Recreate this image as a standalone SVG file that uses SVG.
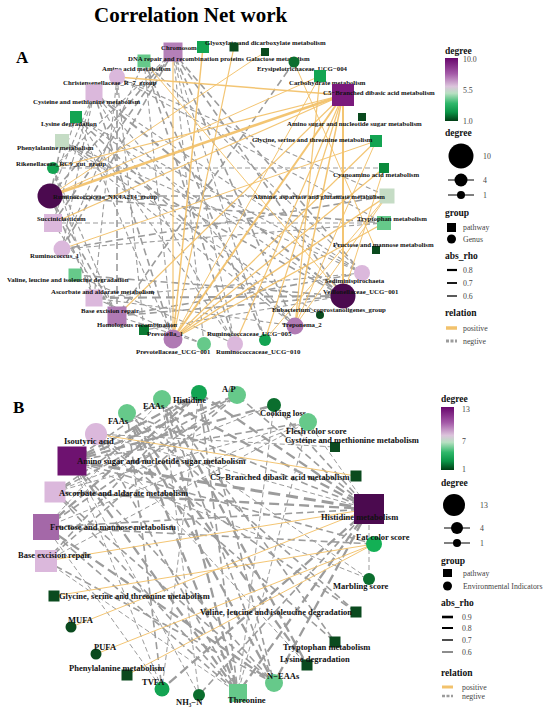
<svg xmlns="http://www.w3.org/2000/svg" width="550" height="712" viewBox="0 0 550 712">
<style>
text{font-family:"Liberation Serif","Times New Roman",serif}
.t{font-weight:bold;font-size:21px;fill:#000}
.pl{font-weight:bold;font-size:17px;fill:#000}
.la{font-weight:bold;font-size:6.8px;fill:#111}
.lb{font-weight:bold;font-size:8.5px;fill:#111}
.lt{font-weight:bold;font-size:9.5px;fill:#111}
.lv{font-size:7.8px;fill:#444}
.pos{stroke:#f2c26c;fill:none;stroke-opacity:.95}
.a1,.a2,.a3,.b1,.b2,.b3,.b4{stroke:#9c9c9c;fill:none}
.a1{stroke-width:1.1;stroke-dasharray:5 3}
.a2{stroke-width:1.6;stroke-dasharray:7 4}
.a3{stroke-width:2.1;stroke-dasharray:9 5}
.b1{stroke-width:1;stroke-dasharray:5 3}
.b2{stroke-width:1.6;stroke-dasharray:7 4}
.b3{stroke-width:2.3;stroke-dasharray:10 5}
.b4{stroke-width:3;stroke-dasharray:12 6}
.k{fill:#000}
</style>
<defs>
<linearGradient id="grad" x1="0" y1="0" x2="0" y2="1">
<stop offset="0" stop-color="#68066c"/>
<stop offset="0.25" stop-color="#a45aa8"/>
<stop offset="0.45" stop-color="#dcc4dc"/>
<stop offset="0.56" stop-color="#b8e0c2"/>
<stop offset="0.72" stop-color="#2fb86a"/>
<stop offset="0.86" stop-color="#0a9446"/>
<stop offset="1" stop-color="#003d14"/>
</linearGradient>
</defs>
<rect width="550" height="712" fill="#fff"/>
<text class="t" x="94" y="22">Correlation Net work</text>
<text class="pl" x="16" y="63">A</text>
<text class="pl" x="13" y="413">B</text>

<g id="edges-A">
<g class="gray">
<line x1="50" y1="196" x2="387" y2="196" class="a2"/>
<line x1="53" y1="223" x2="384" y2="223" class="a1"/>
<line x1="50" y1="196" x2="384" y2="223" class="a2"/>
<line x1="50" y1="196" x2="173" y2="52" class="a2"/>
<line x1="50" y1="196" x2="94" y2="93" class="a1"/>
<line x1="50" y1="196" x2="76" y2="117" class="a1"/>
<line x1="50" y1="196" x2="62" y2="141" class="a2"/>
<line x1="50" y1="196" x2="94" y2="298" class="a2"/>
<line x1="50" y1="196" x2="117" y2="316" class="a2"/>
<line x1="343" y1="296" x2="173" y2="52" class="a2"/>
<line x1="343" y1="296" x2="94" y2="93" class="a3"/>
<line x1="343" y1="296" x2="76" y2="117" class="a1"/>
<line x1="343" y1="296" x2="62" y2="141" class="a2"/>
<line x1="343" y1="296" x2="94" y2="298" class="a3"/>
<line x1="343" y1="296" x2="117" y2="316" class="a2"/>
<line x1="343" y1="296" x2="75" y2="275" class="a2"/>
<line x1="343" y1="296" x2="144" y2="330" class="a1"/>
<line x1="362" y1="273" x2="94" y2="93" class="a1"/>
<line x1="362" y1="273" x2="173" y2="52" class="a2"/>
<line x1="362" y1="273" x2="94" y2="298" class="a1"/>
<line x1="362" y1="273" x2="117" y2="316" class="a2"/>
<line x1="362" y1="273" x2="62" y2="141" class="a1"/>
<line x1="362" y1="273" x2="76" y2="117" class="a1"/>
<line x1="173" y1="339" x2="76" y2="117" class="a1"/>
<line x1="173" y1="339" x2="94" y2="93" class="a2"/>
<line x1="117" y1="77" x2="117" y2="316" class="a2"/>
<line x1="117" y1="77" x2="94" y2="298" class="a1"/>
<line x1="117" y1="77" x2="144" y2="330" class="a1"/>
<line x1="117" y1="77" x2="387" y2="196" class="a1"/>
<line x1="117" y1="77" x2="384" y2="223" class="a1"/>
<line x1="62" y1="249" x2="173" y2="52" class="a2"/>
<line x1="62" y1="249" x2="144" y2="61" class="a1"/>
<line x1="62" y1="249" x2="94" y2="93" class="a1"/>
<line x1="62" y1="249" x2="387" y2="196" class="a2"/>
<line x1="62" y1="249" x2="384" y2="223" class="a1"/>
<line x1="295" y1="326" x2="173" y2="52" class="a2"/>
<line x1="295" y1="326" x2="94" y2="93" class="a1"/>
<line x1="295" y1="326" x2="94" y2="298" class="a1"/>
<line x1="295" y1="326" x2="62" y2="141" class="a1"/>
<line x1="295" y1="326" x2="76" y2="117" class="a2"/>
<line x1="235" y1="344" x2="173" y2="52" class="a1"/>
<line x1="235" y1="344" x2="144" y2="61" class="a2"/>
<line x1="235" y1="344" x2="76" y2="117" class="a1"/>
<line x1="235" y1="344" x2="94" y2="93" class="a1"/>
<line x1="235" y1="344" x2="75" y2="275" class="a1"/>
<line x1="204" y1="344" x2="173" y2="52" class="a1"/>
<line x1="204" y1="344" x2="117" y2="316" class="a1"/>
<line x1="204" y1="344" x2="94" y2="298" class="a1"/>
<line x1="53" y1="168" x2="94" y2="298" class="a1"/>
<line x1="53" y1="168" x2="117" y2="316" class="a1"/>
<line x1="53" y1="168" x2="173" y2="52" class="a1"/>
<line x1="53" y1="168" x2="384" y2="168" class="a1"/>
<line x1="53" y1="223" x2="173" y2="52" class="a2"/>
<line x1="53" y1="223" x2="94" y2="93" class="a1"/>
<line x1="53" y1="223" x2="117" y2="316" class="a1"/>
<line x1="320" y1="315" x2="62" y2="141" class="a1"/>
<line x1="294" y1="62" x2="117" y2="316" class="a2"/>
<line x1="265" y1="340" x2="144" y2="61" class="a2"/>
<line x1="144" y1="61" x2="362" y2="273" class="a1"/>
<line x1="144" y1="61" x2="173" y2="339" class="a1"/>
<line x1="173" y1="52" x2="265" y2="340" class="a1"/>
</g>
<g class="orange">
<line x1="343" y1="95" x2="50" y2="196" class="pos" stroke-width="2.6"/>
<line x1="343" y1="95" x2="117" y2="77" class="pos" stroke-width="1.5"/>
<line x1="343" y1="95" x2="173" y2="339" class="pos" stroke-width="2"/>
<line x1="343" y1="95" x2="343" y2="296" class="pos" stroke-width="2"/>
<line x1="343" y1="95" x2="295" y2="326" class="pos" stroke-width="1.5"/>
<line x1="343" y1="95" x2="265" y2="340" class="pos" stroke-width="1.2"/>
<line x1="343" y1="95" x2="117" y2="316" class="pos" stroke-width="1.2"/>
<line x1="343" y1="95" x2="235" y2="344" class="pos" stroke-width="1.2"/>
<line x1="343" y1="95" x2="53" y2="168" class="pos" stroke-width="1.2"/>
<line x1="343" y1="95" x2="53" y2="223" class="pos" stroke-width="1.2"/>
<line x1="265" y1="52" x2="50" y2="196" class="pos" stroke-width="1"/>
<line x1="203" y1="47" x2="173" y2="339" class="pos" stroke-width="1.5"/>
<line x1="234" y1="47" x2="173" y2="339" class="pos" stroke-width="1.2"/>
<line x1="173" y1="52" x2="173" y2="339" class="pos" stroke-width="1.2"/>
<line x1="320" y1="76" x2="50" y2="196" class="pos" stroke-width="1"/>
<line x1="320" y1="76" x2="173" y2="339" class="pos" stroke-width="1"/>
<line x1="376" y1="141" x2="173" y2="339" class="pos" stroke-width="1.2"/>
<line x1="376" y1="141" x2="295" y2="326" class="pos" stroke-width="1"/>
<line x1="384" y1="168" x2="173" y2="339" class="pos" stroke-width="1.2"/>
<line x1="387" y1="196" x2="173" y2="339" class="pos" stroke-width="1.5"/>
<line x1="384" y1="223" x2="173" y2="339" class="pos" stroke-width="1.2"/>
<line x1="387" y1="196" x2="265" y2="340" class="pos" stroke-width="1"/>
<line x1="376" y1="250" x2="294" y2="62" class="pos" stroke-width="1"/>
<line x1="343" y1="296" x2="144" y2="61" class="pos" stroke-width="1"/>
<line x1="295" y1="326" x2="320" y2="76" class="pos" stroke-width="1.2"/>
<line x1="376" y1="141" x2="62" y2="249" class="pos" stroke-width="1"/>
<line x1="384" y1="168" x2="343" y2="296" class="pos" stroke-width="1"/>
<line x1="387" y1="196" x2="295" y2="326" class="pos" stroke-width="1"/>
</g>
</g>

<g id="nodes-A">
<g id="a-chromosome"><rect x="163.5" y="42.5" width="19" height="19" fill="#b480b8"/><text class="la" x="161" y="49.5">Chromosome</text></g>
<g id="a-glyoxylate"><rect x="197" y="41" width="12" height="12" fill="#13a452"/><text class="la" x="205" y="44.5">Glyoxylate and dicarboxylate metabolism</text></g>
<g id="a-dna-repair"><rect x="137.5" y="54.5" width="13" height="13" fill="#66c98a"/><text class="la" x="128" y="60.5">DNA repair and recombination proteins</text></g>
<g id="a-p3"><rect x="229.5" y="42.5" width="9" height="9" fill="#0a4a1e"/></g>
<g id="a-galactose"><rect x="261" y="48" width="8" height="8" fill="#0a4a1e"/><text class="la" x="246" y="60.5">Galactose metabolism</text></g>
<g id="a-amino-acid"><text class="la" x="102" y="70.5">Amino acid metabolism</text></g>
<g id="a-erysipelotrichaceae"><circle cx="294" cy="62" r="5.5" fill="#0b6e2e"/><text class="la" x="257" y="70.5">Erysipelotrichaceae_UCG−004</text></g>
<g id="a-christensenellaceae"><circle cx="117" cy="77" r="8" fill="#dbb8dc"/><text class="la" x="63" y="84.5">Christensenellaceae_R−7_group</text></g>
<g id="a-carbohydrate"><rect x="314" y="70" width="12" height="12" fill="#13a452"/><text class="la" x="289" y="84.5">Carbohydrate metabolism</text></g>
<g id="a-c5"><rect x="332" y="84" width="22" height="22" fill="#7a1a7c"/><text class="la" x="323" y="94.5">C5−Branched dibasic acid metabolism</text></g>
<g id="a-cysteine"><rect x="85.5" y="84.5" width="17" height="17" fill="#dbb8dc"/><text class="la" x="33" y="103.5">Cysteine and methionine metabolism</text></g>
<g id="a-amino-sugar"><rect x="358" y="113" width="8" height="8" fill="#0a4a1e"/><text class="la" x="287" y="125.5">Amino sugar and nucleotide sugar metabolism</text></g>
<g id="a-lysine"><rect x="70" y="111" width="12" height="12" fill="#13a452"/><text class="la" x="41" y="125.5">Lysine degradation</text></g>
<g id="a-glycine"><rect x="370" y="135" width="12" height="12" fill="#13a452"/><text class="la" x="252" y="141.5">Glycine, serine and threonine metabolism</text></g>
<g id="a-phenylalanine"><rect x="55" y="134" width="14" height="14" fill="#c5dcc5"/><text class="la" x="17" y="149.5">Phenylalanine metabolism</text></g>
<g id="a-rikenellaceae"><circle cx="53" cy="168" r="6" fill="#13a452"/><text class="la" x="16" y="165.5">Rikenellaceae_RC9_gut_group</text></g>
<g id="a-cyanoamino"><rect x="379" y="163" width="10" height="10" fill="#0b8a3c"/><text class="la" x="333" y="176.5">Cyanoamino acid metabolism</text></g>
<g id="a-nk4a214"><circle cx="50" cy="196" r="12.5" fill="#4b0a4f"/><text class="la" x="53" y="198.5">Ruminococcaceae_NK4A214_group</text></g>
<g id="a-alanine"><rect x="379.5" y="188.5" width="15" height="15" fill="#c5dcc5"/><text class="la" x="253" y="198.5">Alanine, aspartate and glutamate metabolism</text></g>
<g id="a-succiniclasticum"><rect x="44" y="214" width="18" height="18" fill="#dbb8dc"/><text class="la" x="37" y="220.5">Succiniclasticum</text></g>
<g id="a-tryptophan"><rect x="377" y="216" width="14" height="14" fill="#66c98a"/><text class="la" x="357" y="220.5">Tryptophan metabolism</text></g>
<g id="a-fructose"><rect x="372" y="246" width="8" height="8" fill="#0a4a1e"/><text class="la" x="333" y="246.5">Fructose and mannose metabolism</text></g>
<g id="a-ruminococcus1"><circle cx="62" cy="249" r="8.5" fill="#dbb8dc"/><text class="la" x="30" y="257.5">Ruminococcus_1</text></g>
<g id="a-valine"><rect x="68.5" y="268.5" width="13" height="13" fill="#66c98a"/><text class="la" x="7" y="281.5">Valine, leucine and isoleucine degradation</text></g>
<g id="a-sediminispirochaeta"><circle cx="362" cy="273" r="8" fill="#dbb8dc"/><text class="la" x="325" y="282.5">Sediminispirochaeta</text></g>
<g id="a-ascorbate"><rect x="85.5" y="289.5" width="17" height="17" fill="#dbb8dc"/><text class="la" x="51" y="293.5">Ascorbate and aldarate metabolism</text></g>
<g id="a-veillonellaceae"><circle cx="343" cy="296" r="12.5" fill="#4b0a4f"/><text class="la" x="323" y="293.5">Veillonellaceae_UCG−001</text></g>
<g id="a-eubacterium"><circle cx="320" cy="315" r="4" fill="#0a4a1e"/><text class="la" x="272" y="311.5">Eubacterium_coprostanoligenes_group</text></g>
<g id="a-base-excision"><rect x="107.5" y="306.5" width="19" height="19" fill="#b07ab4"/><text class="la" x="81" y="312.5">Base excision repair</text></g>
<g id="a-homologous"><rect x="139" y="325" width="10" height="10" fill="#0b7a33"/><text class="la" x="97" y="326.5">Homologous recombination</text></g>
<g id="a-treponema"><circle cx="295" cy="326" r="8.5" fill="#b07ab4"/><text class="la" x="282" y="326.5">Treponema_2</text></g>
<g id="a-prevotella1"><circle cx="173" cy="339" r="9.5" fill="#b07ab4"/><text class="la" x="147" y="335.5">Prevotella_1</text></g>
<g id="a-rum-ucg005"><circle cx="265" cy="340" r="6" fill="#13a452"/><text class="la" x="207" y="335.5">Ruminococcaceae_UCG−005</text></g>
<g id="a-prevotellaceae"><circle cx="204" cy="344" r="7" fill="#66c98a"/><text class="la" x="136" y="353.5">Prevotellaceae_UCG−001</text></g>
<g id="a-rum-ucg010"><circle cx="235" cy="344" r="8" fill="#dbb8dc"/><text class="la" x="216" y="353.5">Ruminococcaceae_UCG−010</text></g>
</g>

<g id="legend-A">
<text class="lt" x="445" y="54">degree</text>
<rect x="445" y="58" width="13" height="63" fill="url(#grad)"/>
<text class="lv" x="463" y="62">10.0</text>
<text class="lv" x="463" y="93">5.5</text>
<text class="lv" x="463" y="124">1.0</text>
<text class="lt" x="445" y="136">degree</text>
<circle cx="461" cy="156" r="12.5" class="k"/>
<text class="lv" x="483" y="159">10</text>
<line x1="448" y1="180" x2="474" y2="180" stroke="#000" stroke-width="1"/>
<circle cx="461" cy="180" r="6.5" class="k"/>
<text class="lv" x="483" y="183">4</text>
<line x1="448" y1="195" x2="474" y2="195" stroke="#000" stroke-width="1"/>
<circle cx="461" cy="195" r="4" class="k"/>
<text class="lv" x="483" y="198">1</text>
<text class="lt" x="445" y="216">group</text>
<rect x="447" y="223" width="9" height="9" class="k"/>
<text class="lv" x="463" y="230">pathway</text>
<circle cx="451.5" cy="239" r="4.5" class="k"/>
<text class="lv" x="463" y="242">Genus</text>
<text class="lt" x="445" y="259">abs_rho</text>
<line x1="447" y1="270" x2="457" y2="270" stroke="#000" stroke-width="2.2"/>
<text class="lv" x="463" y="273">0.8</text>
<line x1="447" y1="283" x2="457" y2="283" stroke="#000" stroke-width="1.8"/>
<text class="lv" x="463" y="286">0.7</text>
<line x1="447" y1="296" x2="457" y2="296" stroke="#000" stroke-width="1.3"/>
<text class="lv" x="463" y="299">0.6</text>
<text class="lt" x="445" y="316">relation</text>
<line x1="446" y1="328" x2="457" y2="328" stroke="#f2c26c" stroke-width="3.5"/>
<text class="lv" x="463" y="331">positive</text>
<line x1="446" y1="341" x2="457" y2="341" stroke="#9c9c9c" stroke-width="3" stroke-dasharray="3 1.5"/>
<text class="lv" x="463" y="344">negtive</text>
</g>

<g id="edges-B">
<g class="gray">
<line x1="369" y1="509" x2="199" y2="393" class="b3"/>
<line x1="369" y1="509" x2="237" y2="395" class="b2"/>
<line x1="369" y1="509" x2="162" y2="399" class="b3"/>
<line x1="369" y1="509" x2="127" y2="413" class="b2"/>
<line x1="369" y1="509" x2="274" y2="405" class="b2"/>
<line x1="369" y1="509" x2="308" y2="422" class="b1"/>
<line x1="369" y1="509" x2="96" y2="434" class="b1"/>
<line x1="369" y1="509" x2="274" y2="683" class="b3"/>
<line x1="369" y1="509" x2="162" y2="689" class="b3"/>
<line x1="369" y1="509" x2="199" y2="695" class="b2"/>
<line x1="369" y1="509" x2="369" y2="579" class="b1"/>
<line x1="369" y1="509" x2="238" y2="693" class="b3"/>
<line x1="369" y1="509" x2="72" y2="461" class="b4"/>
<line x1="369" y1="509" x2="55" y2="492" class="b3"/>
<line x1="369" y1="509" x2="46" y2="527" class="b2"/>
<line x1="72" y1="461" x2="199" y2="393" class="b3"/>
<line x1="72" y1="461" x2="237" y2="395" class="b3"/>
<line x1="72" y1="461" x2="162" y2="399" class="b2"/>
<line x1="72" y1="461" x2="274" y2="405" class="b3"/>
<line x1="72" y1="461" x2="308" y2="422" class="b2"/>
<line x1="72" y1="461" x2="274" y2="683" class="b2"/>
<line x1="72" y1="461" x2="162" y2="689" class="b1"/>
<line x1="72" y1="461" x2="238" y2="693" class="b3"/>
<line x1="72" y1="461" x2="199" y2="695" class="b1"/>
<line x1="72" y1="461" x2="369" y2="579" class="b1"/>
<line x1="72" y1="461" x2="374" y2="544" class="b2"/>
<line x1="55" y1="492" x2="237" y2="395" class="b2"/>
<line x1="55" y1="492" x2="199" y2="393" class="b2"/>
<line x1="55" y1="492" x2="274" y2="405" class="b1"/>
<line x1="55" y1="492" x2="274" y2="683" class="b2"/>
<line x1="55" y1="492" x2="238" y2="693" class="b2"/>
<line x1="55" y1="492" x2="308" y2="422" class="b1"/>
<line x1="46" y1="527" x2="374" y2="544" class="b2"/>
<line x1="46" y1="527" x2="199" y2="393" class="b3"/>
<line x1="46" y1="527" x2="237" y2="395" class="b2"/>
<line x1="46" y1="527" x2="162" y2="399" class="b1"/>
<line x1="46" y1="527" x2="308" y2="422" class="b1"/>
<line x1="46" y1="527" x2="274" y2="683" class="b3"/>
<line x1="46" y1="527" x2="238" y2="693" class="b2"/>
<line x1="46" y1="527" x2="162" y2="689" class="b1"/>
<line x1="46" y1="561" x2="199" y2="393" class="b2"/>
<line x1="46" y1="561" x2="237" y2="395" class="b2"/>
<line x1="46" y1="561" x2="274" y2="683" class="b2"/>
<line x1="46" y1="561" x2="238" y2="693" class="b1"/>
<line x1="46" y1="561" x2="308" y2="422" class="b1"/>
<line x1="96" y1="434" x2="335" y2="447" class="b1"/>
<line x1="96" y1="434" x2="356" y2="612" class="b2"/>
<line x1="96" y1="434" x2="335" y2="642" class="b2"/>
<line x1="96" y1="434" x2="307" y2="665" class="b1"/>
<line x1="96" y1="434" x2="238" y2="693" class="b2"/>
<line x1="127" y1="413" x2="356" y2="612" class="b2"/>
<line x1="127" y1="413" x2="307" y2="665" class="b3"/>
<line x1="127" y1="413" x2="274" y2="683" class="b3"/>
<line x1="127" y1="413" x2="238" y2="693" class="b3"/>
<line x1="127" y1="413" x2="162" y2="689" class="b2"/>
<line x1="127" y1="413" x2="369" y2="579" class="b1"/>
<line x1="162" y1="399" x2="307" y2="665" class="b3"/>
<line x1="162" y1="399" x2="335" y2="642" class="b2"/>
<line x1="162" y1="399" x2="238" y2="693" class="b3"/>
<line x1="162" y1="399" x2="274" y2="683" class="b2"/>
<line x1="162" y1="399" x2="199" y2="695" class="b1"/>
<line x1="199" y1="393" x2="238" y2="693" class="b2"/>
<line x1="199" y1="393" x2="274" y2="683" class="b2"/>
<line x1="199" y1="393" x2="162" y2="689" class="b1"/>
<line x1="274" y1="405" x2="238" y2="693" class="b1"/>
<line x1="308" y1="422" x2="238" y2="693" class="b1"/>
</g>
<g class="orange">
<line x1="96" y1="434" x2="356" y2="476" class="pos" stroke-width="1"/>
<line x1="46" y1="561" x2="369" y2="509" class="pos" stroke-width="1"/>
<line x1="54" y1="596" x2="374" y2="544" class="pos" stroke-width="1"/>
<line x1="71" y1="627" x2="369" y2="509" class="pos" stroke-width="1"/>
<line x1="96" y1="654" x2="374" y2="544" class="pos" stroke-width="1"/>
<line x1="127" y1="675" x2="374" y2="544" class="pos" stroke-width="1"/>
</g>
</g>

<g id="nodes-B">
<g id="b-histidine"><circle cx="199" cy="393" r="8" fill="#13a452"/><text class="lb" x="173" y="403">Histidine</text></g>
<g id="b-ap"><circle cx="237" cy="395" r="9" fill="#66c98a"/><text class="lb" x="222" y="392">A/P</text></g>
<g id="b-eaas"><circle cx="162" cy="399" r="9" fill="#66c98a"/><text class="lb" x="143" y="409">EAAs</text></g>
<g id="b-faas"><circle cx="127" cy="413" r="9" fill="#66c98a"/><text class="lb" x="108" y="424">FAAs</text></g>
<g id="b-cooking"><circle cx="274" cy="405" r="7" fill="#0b6e2e"/><text class="lb" x="260" y="416">Cooking loss</text></g>
<g id="b-flesh"><circle cx="308" cy="422" r="9" fill="#66c98a"/><text class="lb" x="286" y="434">Flesh color score</text></g>
<g id="b-isoutyric"><circle cx="96" cy="434" r="11" fill="#dbb8dc"/><text class="lb" x="64" y="444">Isoutyric acid</text></g>
<g id="b-cysteine"><rect x="330" y="442" width="10" height="10" fill="#0a4a1e"/><text class="lb" x="285" y="443">Cysteine and methionine metabolism</text></g>
<g id="b-amino-sugar"><rect x="57.5" y="446.5" width="29" height="29" fill="#6e1270"/><text class="lb" x="77" y="464">Amino sugar and nucleotide sugar metabolism</text></g>
<g id="b-c5"><rect x="350.5" y="470.5" width="11" height="11" fill="#0a4a1e"/><text class="lb" x="210" y="480">C5−Branched dibasic acid metabolism</text></g>
<g id="b-ascorbate"><rect x="44.5" y="481.5" width="21" height="21" fill="#dbb8dc"/><text class="lb" x="59" y="496">Ascorbate and aldarate metabolism</text></g>
<g id="b-histidine-metabolism"><rect x="354" y="494" width="30" height="30" fill="#4b0a4f"/><text class="lb" x="321" y="520">Histidine metabolism</text></g>
<g id="b-fructose"><rect x="33" y="514" width="26" height="26" fill="#a468a8"/><text class="lb" x="50" y="530">Fructose and mannose metabolism</text></g>
<g id="b-fat"><circle cx="374" cy="544" r="8" fill="#13b055"/><text class="lb" x="356" y="540">Fat color score</text></g>
<g id="b-base-excision"><rect x="35" y="550" width="22" height="22" fill="#dbb8dc"/><text class="lb" x="18" y="558">Base excision repair</text></g>
<g id="b-marbling"><circle cx="369" cy="579" r="6" fill="#0b6e2e"/><text class="lb" x="333" y="589">Marbling score</text></g>
<g id="b-glycine"><rect x="48.5" y="590.5" width="11" height="11" fill="#0a4a1e"/><text class="lb" x="59" y="599">Glycine, serine and threonine metabolism</text></g>
<g id="b-valine"><rect x="350.5" y="606.5" width="11" height="11" fill="#0a4a1e"/><text class="lb" x="200" y="615">Valine, leucine and isoleucine degradation</text></g>
<g id="b-mufa"><circle cx="71" cy="627" r="5.5" fill="#0a4a1e"/><text class="lb" x="68" y="623">MUFA</text></g>
<g id="b-tryptophan"><rect x="329.5" y="636.5" width="11" height="11" fill="#0a4a1e"/><text class="lb" x="283" y="650">Tryptophan metabolism</text></g>
<g id="b-pufa"><circle cx="96" cy="654" r="5.5" fill="#0a4a1e"/><text class="lb" x="94" y="650">PUFA</text></g>
<g id="b-lysine"><rect x="301.5" y="659.5" width="11" height="11" fill="#0a4a1e"/><text class="lb" x="280" y="662">Lysine degradation</text></g>
<g id="b-phenylalanine"><rect x="121.5" y="669.5" width="11" height="11" fill="#0a4a1e"/><text class="lb" x="69" y="671">Phenylalanine metabolism</text></g>
<g id="b-neaas"><circle cx="274" cy="683" r="9" fill="#66c98a"/><text class="lb" x="267" y="679">N−EAAs</text></g>
<g id="b-tvfa"><circle cx="162" cy="689" r="7.5" fill="#13a452"/><text class="lb" x="142" y="685">TVFA</text></g>
<g id="b-threonine"><rect x="229" y="684" width="18" height="18" fill="#66c98a"/><text class="lb" x="228" y="703">Threonine</text></g>
<g id="b-nh3n"><circle cx="199" cy="695" r="6" fill="#0b6e2e"/><text class="lb" x="176" y="705">NH₃−N</text></g>
</g>

<g id="legend-B">
<text class="lt" x="441" y="402">degree</text>
<rect x="441" y="407" width="13" height="63" fill="url(#grad)"/>
<text class="lv" x="462" y="412">13</text>
<text class="lv" x="462" y="444">7</text>
<text class="lv" x="462" y="472">1</text>
<text class="lt" x="441" y="486">degree</text>
<circle cx="454" cy="505" r="11" class="k"/>
<text class="lv" x="480" y="508">13</text>
<line x1="444" y1="528" x2="470" y2="528" stroke="#000" stroke-width="1"/>
<circle cx="457" cy="528" r="6" class="k"/>
<text class="lv" x="480" y="531">4</text>
<line x1="444" y1="543" x2="470" y2="543" stroke="#000" stroke-width="1"/>
<circle cx="457" cy="543" r="4" class="k"/>
<text class="lv" x="480" y="546">1</text>
<text class="lt" x="441" y="564">group</text>
<rect x="443" y="569" width="9" height="8" class="k"/>
<text class="lv" x="463" y="576">pathway</text>
<circle cx="447.5" cy="586" r="4.5" class="k"/>
<text class="lv" x="463" y="589">Environmental Indicators</text>
<text class="lt" x="441" y="606">abs_rho</text>
<line x1="442" y1="617" x2="453" y2="617" stroke="#000" stroke-width="2.6"/>
<text class="lv" x="462" y="620">0.9</text>
<line x1="442" y1="628" x2="453" y2="628" stroke="#000" stroke-width="2"/>
<text class="lv" x="462" y="631">0.8</text>
<line x1="442" y1="640" x2="453" y2="640" stroke="#000" stroke-width="1.4"/>
<text class="lv" x="462" y="643">0.7</text>
<line x1="442" y1="652" x2="453" y2="652" stroke="#000" stroke-width="0.9"/>
<text class="lv" x="462" y="655">0.6</text>
<text class="lt" x="441" y="676">relation</text>
<line x1="442" y1="687" x2="453" y2="687" stroke="#f2c26c" stroke-width="3"/>
<text class="lv" x="462" y="690">positive</text>
<line x1="442" y1="696" x2="453" y2="696" stroke="#9c9c9c" stroke-width="2.5" stroke-dasharray="3 1.5"/>
<text class="lv" x="462" y="699">negtive</text>
</g>
</svg>
